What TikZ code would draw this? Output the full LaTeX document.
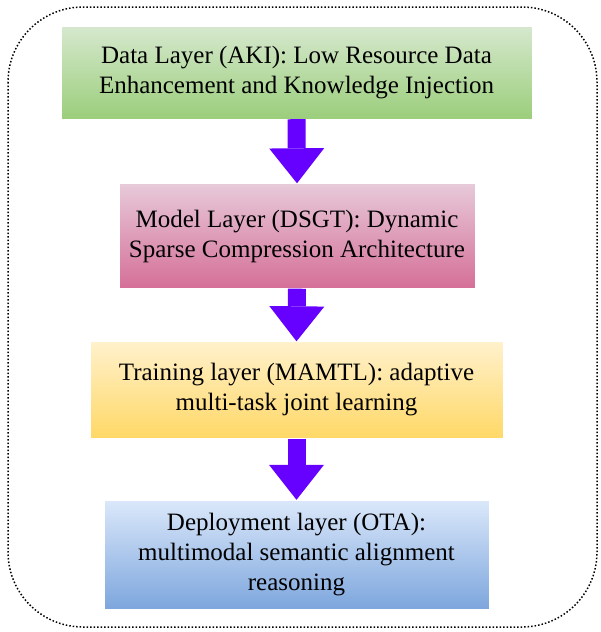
\documentclass[tikz,border=0pt]{standalone}
\usepackage{fontspec}
\setmainfont{Liberation Serif}
\usetikzlibrary{arrows.meta}

\definecolor{datatop}{HTML}{D6E8CE}
\definecolor{databot}{HTML}{9BCE7B}
\definecolor{modeltop}{HTML}{E7CAD9}
\definecolor{modelbot}{HTML}{D56F98}
\definecolor{traintop}{HTML}{FFF1CC}
\definecolor{trainbot}{HTML}{FFD866}
\definecolor{deploytop}{HTML}{DBE8FA}
\definecolor{deploybot}{HTML}{7DA6DD}
\definecolor{flowviolet}{HTML}{6600FF}

\begin{document}
\begin{tikzpicture}[x=1pt, y=-1pt,
  layer/.style={draw=white, thin, font=\fontsize{25}{30}\selectfont, align=center, inner sep=0pt},
  flow/.style={draw=flowviolet, line width=18pt, -{Triangle[width=55pt, length=35pt, line width=0pt]}},
  frame/.style={dotted, line width=1.5pt, rounded corners=75pt}
]
\useasboundingbox (0,0) rectangle (600,632);

% Outer frame
\draw[frame] (8,7) rectangle (597,627);

% Layers
\node[layer, top color=datatop, bottom color=databot, minimum width=471pt, minimum height=93pt] (aki) at (296.5,72.5)
  {Data Layer (AKI): Low Resource Data\\Enhancement and Knowledge Injection};
\node[layer, top color=modeltop, bottom color=modelbot, minimum width=356pt, minimum height=105pt] (dsgt) at (297,236)
  {Model Layer (DSGT): Dynamic\\Sparse Compression Architecture};
\node[layer, top color=traintop, bottom color=trainbot, minimum width=413pt, minimum height=97pt] (mamtl) at (296.5,390)
  {Training layer (MAMTL): adaptive\\multi-task joint learning};
\node[layer, top color=deploytop, bottom color=deploybot, minimum width=385pt, minimum height=109pt] (ota) at (296.5,554.5)
  {Deployment layer (OTA):\\multimodal semantic alignment\\reasoning};

% Flow arrows
\draw[flow] (aki.south) -- (dsgt.north);
\draw[flow] (dsgt.south) -- (mamtl.north);
\draw[flow] (mamtl.south) -- (ota.north);

\end{tikzpicture}
\end{document}
